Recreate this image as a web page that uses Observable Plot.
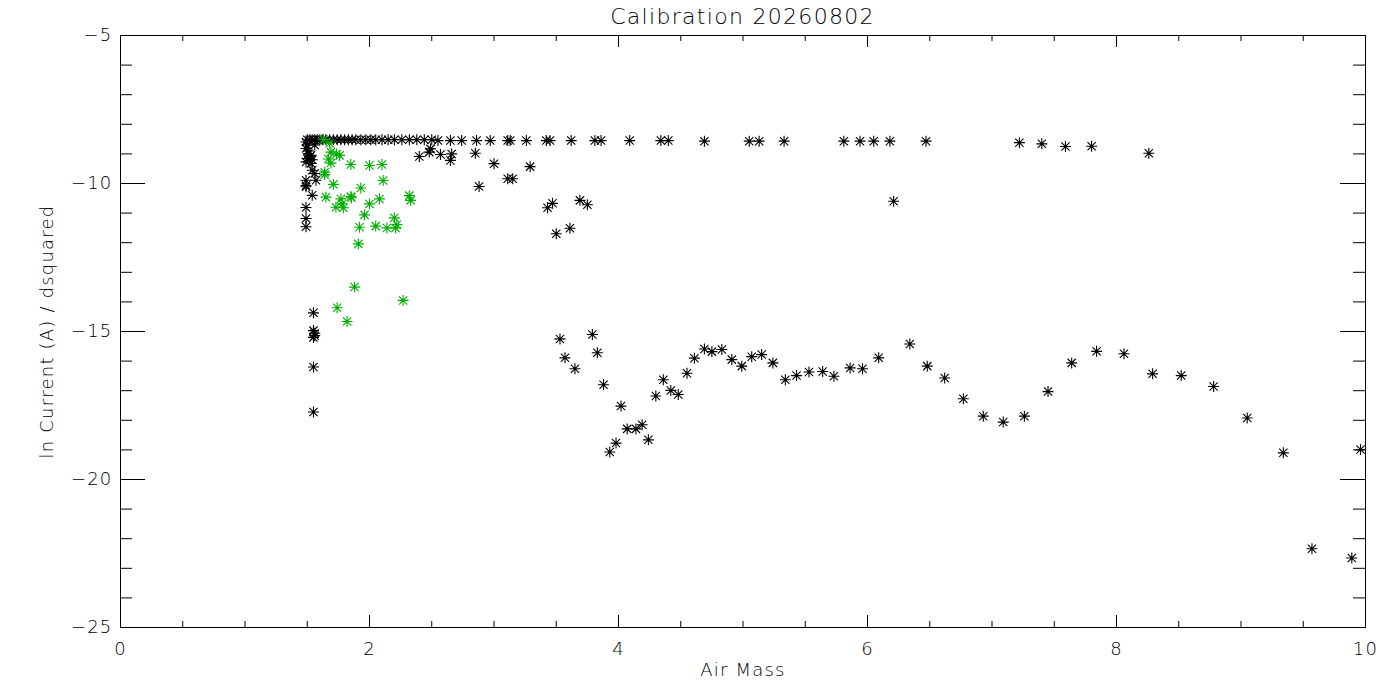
<!DOCTYPE html>
<html>
<head>
<meta charset="utf-8">
<script src="https://cdn.jsdelivr.net/npm/d3@7"></script>
<script src="https://cdn.jsdelivr.net/npm/@observablehq/plot@0.6"></script>
<style>
  body { margin: 0; background: #fff; }
  #title { box-sizing: border-box; height: 26px; padding-top: 4px; line-height: 26px; margin-left: 120px; width: 1245px;
           text-align: center; font-family: "DejaVu Sans", sans-serif; font-weight: 200; font-size: 22px; letter-spacing: 1.3px; color: #000; overflow: visible; white-space: nowrap; }
</style>
</head>
<body>
<div id="title">Calibration 20260802</div>
<div id="chart"></div>
<script>
// ---- data ----
const title = "Calibration 20260802";
const xLabel = "Air Mass";
const yLabel = "ln Current (A) / dsquared";

const xMajorTicks = [0, 2, 4, 6, 8, 10];
const xMinorTicks = [0.5, 1, 1.5, 2.5, 3, 3.5, 4.5, 5, 5.5, 6.5, 7, 7.5, 8.5, 9, 9.5];
const yMajorTicks = [-25, -20, -15, -10, -5];
const yMinorTicks = [-24, -23, -22, -21, -19, -18, -17, -16, -14, -13, -12, -11, -9, -8, -7, -6];

// black series: air mass
const blackX = [
  1.50,1.52,1.54,1.56,1.58,1.60,1.62,1.65,1.68,1.71,1.74,1.77,1.80,1.83,1.86,1.89,1.93,1.97,2.01,2.05,2.10,2.15,2.20,2.26,2.32,2.38,2.44,2.50,
  2.55,2.65,2.74,2.86,2.97,3.11,3.13,3.26,3.42,3.45,3.62,3.81,3.86,4.09,4.34,4.40,
  4.69,5.05,5.13,5.33,5.81,5.94,6.05,6.18,6.47,7.22,7.40,7.59,7.80,8.26,
  1.49,1.50,1.49,1.51,1.51,1.52,1.50,1.49,1.53,1.54,1.53,1.54,1.56,1.57,1.49,1.49,1.49,1.54,1.49,1.49,1.49,1.56,
  2.40,2.48,2.49,2.57,2.66,2.65,2.85,3.00,3.29,2.88,3.11,3.15,3.47,3.43,3.69,3.75,3.50,3.61,6.21,
  1.55,1.55,1.56,1.56,1.55,1.55,1.55,
  3.53,3.79,3.57,3.83,3.65,3.88,4.02,4.07,4.14,4.19,3.98,3.93,4.24,4.30,4.36,4.42,4.48,4.55,4.61,4.69,4.75,4.83,4.91,4.99,
  5.07,5.15,5.24,5.34,5.43,5.53,5.64,5.73,5.86,5.96,6.09,
  6.34,6.48,6.62,6.77,6.93,7.09,7.26,7.45,7.64,7.84,8.06,8.29,8.52,8.78,9.05,9.34,9.57,9.89,9.96
];
// black series: ln current
const blackY = [
  -8.52,-8.52,-8.52,-8.52,-8.52,-8.52,-8.52,-8.52,-8.52,-8.52,-8.52,-8.52,-8.52,-8.52,-8.52,-8.52,-8.52,-8.52,-8.52,-8.52,-8.52,-8.52,-8.52,-8.52,-8.52,-8.52,-8.52,-8.52,
  -8.55,-8.55,-8.55,-8.55,-8.55,-8.55,-8.55,-8.55,-8.55,-8.55,-8.55,-8.55,-8.55,-8.55,-8.55,-8.55,
  -8.57,-8.57,-8.57,-8.57,-8.57,-8.57,-8.57,-8.57,-8.57,-8.62,-8.66,-8.75,-8.74,-8.98,
  -8.60,-8.70,-8.82,-8.90,-8.99,-9.10,-9.16,-9.27,-9.05,-9.20,-9.32,-9.55,-9.66,-9.89,-9.89,-10.07,-10.11,-10.40,-10.81,-11.18,-11.46,-8.70,
  -9.09,-8.94,-8.83,-9.02,-9.00,-9.22,-8.98,-9.33,-9.43,-10.10,-9.84,-9.84,-10.67,-10.82,-10.57,-10.72,-11.70,-11.51,-10.60,
  -14.37,-14.97,-15.06,-15.14,-15.20,-16.20,-17.72,
  -15.25,-15.10,-15.89,-15.72,-16.26,-16.80,-17.52,-18.29,-18.29,-18.15,-18.77,-19.07,-18.66,-17.18,-16.63,-16.99,-17.13,-16.41,-15.90,-15.59,-15.68,-15.61,-15.95,-16.17,
  -15.85,-15.78,-16.06,-16.63,-16.49,-16.37,-16.35,-16.51,-16.23,-16.26,-15.89,
  -15.42,-16.17,-16.57,-17.27,-17.86,-18.06,-17.86,-17.03,-16.06,-15.67,-15.75,-16.43,-16.49,-16.86,-17.92,-19.10,-22.34,-22.65,-18.99
];
// green series
const greenX = [1.63,1.68,1.69,1.735,1.76,1.67,1.69,1.85,2.00,2.10,1.64,1.64,1.71,1.93,2.11,1.65,1.77,1.85,1.855,1.78,1.79,1.73,2.00,2.08,2.32,2.33,1.96,2.20,1.92,2.05,2.14,2.21,2.22,1.91,1.88,2.27,1.74,1.82];
const greenY = [-8.51,-8.64,-8.94,-9.00,-9.05,-9.17,-9.31,-9.36,-9.39,-9.36,-9.62,-9.70,-10.03,-10.15,-9.90,-10.46,-10.52,-10.44,-10.48,-10.69,-10.82,-10.80,-10.69,-10.52,-10.41,-10.57,-11.06,-11.16,-11.48,-11.44,-11.50,-11.50,-11.39,-12.04,-13.50,-13.95,-14.20,-14.66];

const black = blackX.map((x, i) => ({x, y: blackY[i]}));
const green = greenX.map((x, i) => ({x, y: greenY[i]}));

// ---- layout ----
const W = 1400, H = 674, mL = 120, mR = 35, mT = 9, mB = 73;
const fw = W - mL - mR, fh = H - mT - mB;

const asterisk = {
  draw(ctx, size) {
    const r = Math.sqrt(size / Math.PI);
    const d = r * 0.75;
    ctx.moveTo(-r, 0); ctx.lineTo(r, 0);
    ctx.moveTo(0, -r); ctx.lineTo(0, r);
    ctx.moveTo(-d, -d); ctx.lineTo(d, d);
    ctx.moveTo(-d, d); ctx.lineTo(d, -d);
  }
};
const fmt = d => String(d).replace("-", "\u2212");

const chart = Plot.plot({
  width: W, height: H,
  marginLeft: mL, marginRight: mR, marginTop: mT, marginBottom: mB,
  style: {fontFamily: "DejaVu Sans, sans-serif", fontWeight: 200, fontSize: "18px", color: "#000", background: "#fff", overflow: "visible"},
  x: {domain: [0, 10], label: null},
  y: {domain: [-25, -5], label: null},
  marks: [
    Plot.frame({stroke: "#000"}),
    // ticks (inward, on all four sides)
    Plot.tickY(yMajorTicks, {y: d => d, insetRight: fw - 25, stroke: "#000"}),
    Plot.tickY(yMajorTicks, {y: d => d, insetLeft: fw - 25, stroke: "#000"}),
    Plot.tickY(yMinorTicks, {y: d => d, insetRight: fw - 12, stroke: "#000"}),
    Plot.tickY(yMinorTicks, {y: d => d, insetLeft: fw - 12, stroke: "#000"}),
    Plot.tickX(xMajorTicks, {x: d => d, insetTop: fh - 12, stroke: "#000"}),
    Plot.tickX(xMajorTicks, {x: d => d, insetBottom: fh - 12, stroke: "#000"}),
    Plot.tickX(xMinorTicks, {x: d => d, insetTop: fh - 6, stroke: "#000"}),
    Plot.tickX(xMinorTicks, {x: d => d, insetBottom: fh - 6, stroke: "#000"}),
    Plot.axisX({ticks: xMajorTicks, tickSize: 0, tickPadding: 15, tickFormat: fmt, label: null, fontSize: 18}),
    Plot.axisY({ticks: yMajorTicks, tickSize: 0, tickPadding: 8, tickFormat: fmt, label: null, fontSize: 18}),
    Plot.text([xLabel], {frameAnchor: "bottom", dy: 48, textAnchor: "middle", fontSize: 18, fill: "#000"}),
    Plot.text([yLabel], {frameAnchor: "left", dx: -73, textAnchor: "middle", rotate: -90, fontSize: 18, fill: "#000"}),
    Plot.dot(black, {x: "x", y: "y", symbol: asterisk, r: 5.5, stroke: "#000", fill: "none", strokeWidth: 1.1}),
    Plot.dot(green, {x: "x", y: "y", symbol: asterisk, r: 5.5, stroke: "#00b000", fill: "none", strokeWidth: 1.1})
  ]
});
document.getElementById("chart").appendChild(chart);
chart.querySelectorAll("text").forEach(t => t.style.letterSpacing = "1.2px");
</script>
</body>
</html>
